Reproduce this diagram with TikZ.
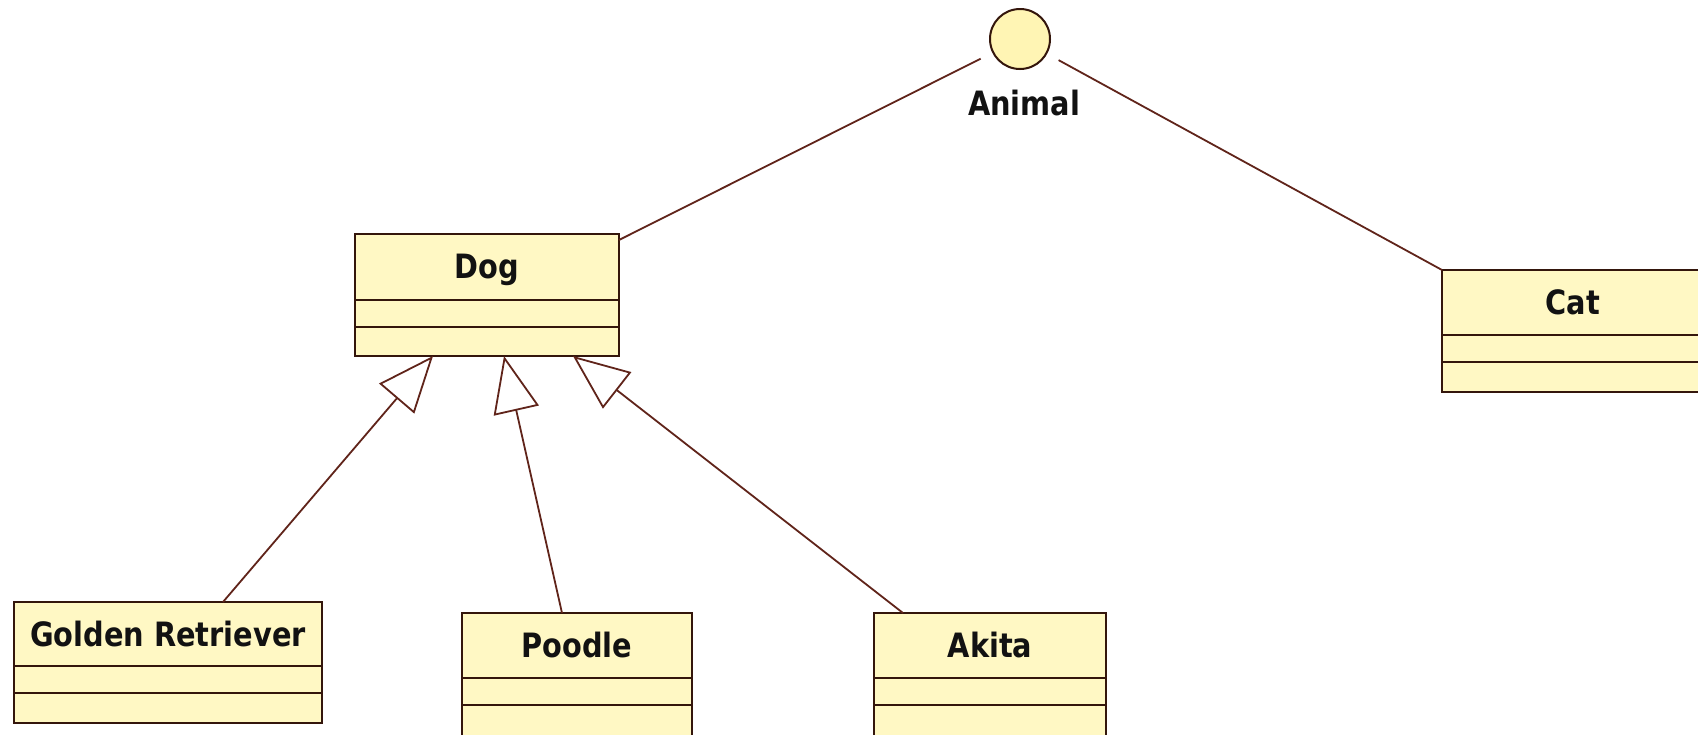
\documentclass[tikz,border=0pt]{standalone}
\usepackage{fontspec}
\setmainfont{DejaVu Sans}[FakeStretch=0.86]
\usetikzlibrary{arrows.meta}

\definecolor{boxfill}{RGB}{255,248,196}
\definecolor{ifacefill}{RGB}{255,245,180}
\definecolor{boxedge}{RGB}{52,22,12}
\definecolor{linkcol}{RGB}{96,36,26}
\definecolor{inkcol}{RGB}{18,18,18}

\tikzset{
  classbox/.style={draw=boxedge, fill=boxfill, line width=2.7pt, rectangle,
    inner sep=0pt, outer sep=0pt},
  divider/.style={draw=boxedge, line width=2.4pt},
  classname/.style={text=inkcol, font=\fontsize{33.5}{33.5}\selectfont\bfseries,
    inner sep=0pt, anchor=base},
  iface/.style={circle, draw=boxedge, fill=ifacefill, line width=2pt,
    minimum size=60pt, inner sep=0pt},
  link/.style={draw=linkcol, line width=1.8pt},
  inherit/.style={link, -{Triangle[open, length=56pt, width=46pt]}}
}

% a UML class: name, left, top, right, first divider, second divider, bottom, title
\newcommand\umlclass[8]{%
  \node[classbox, anchor=north west, minimum width=#4pt-#2pt,
        minimum height=#7pt-#3pt] (#1) at (#2,#3) {};
  \draw[divider] (#1.west |- 0,#5) -- (#1.east |- 0,#5);
  \draw[divider] (#1.west |- 0,#6) -- (#1.east |- 0,#6);
  \node[classname] (#1-title) at ({(#2+#4)/2},{#3+44}) {#8};
}

\begin{document}
\begin{tikzpicture}[x=1pt,y=-1pt]
\useasboundingbox[fill=white] (0,0) rectangle (1698,734);

% interface
\node[iface] (animal) at (1020,39) {};
\node[classname] (animal-name) at (1024,115) {Animal};

% classes
\umlclass{dog}{355}{234}{619}{300}{327}{356}{Dog}
\umlclass{cat}{1442}{270}{1704}{335}{362}{392}{Cat}
\umlclass{golden}{14}{602}{322}{666}{693}{723}{Golden Retriever}
\umlclass{poodle}{462}{613}{692}{678}{705}{738}{Poodle}
\umlclass{akita}{874}{613}{1106}{678}{705}{738}{Akita}

% realisations of the interface
\draw[link, shorten >=13pt] ([yshift=-6pt]dog.north east) -- (animal);
\draw[link, shorten <=13pt] (animal) -- (cat.north west);

% generalisations
\draw[inherit] (223,0 |- golden.north) -- (433,0 |- dog.south);
\draw[inherit] (562,0 |- poodle.north) -- (504,0 |- dog.south);
\draw[inherit] (903,0 |- akita.north) -- (573,0 |- dog.south);
\end{tikzpicture}
\end{document}
